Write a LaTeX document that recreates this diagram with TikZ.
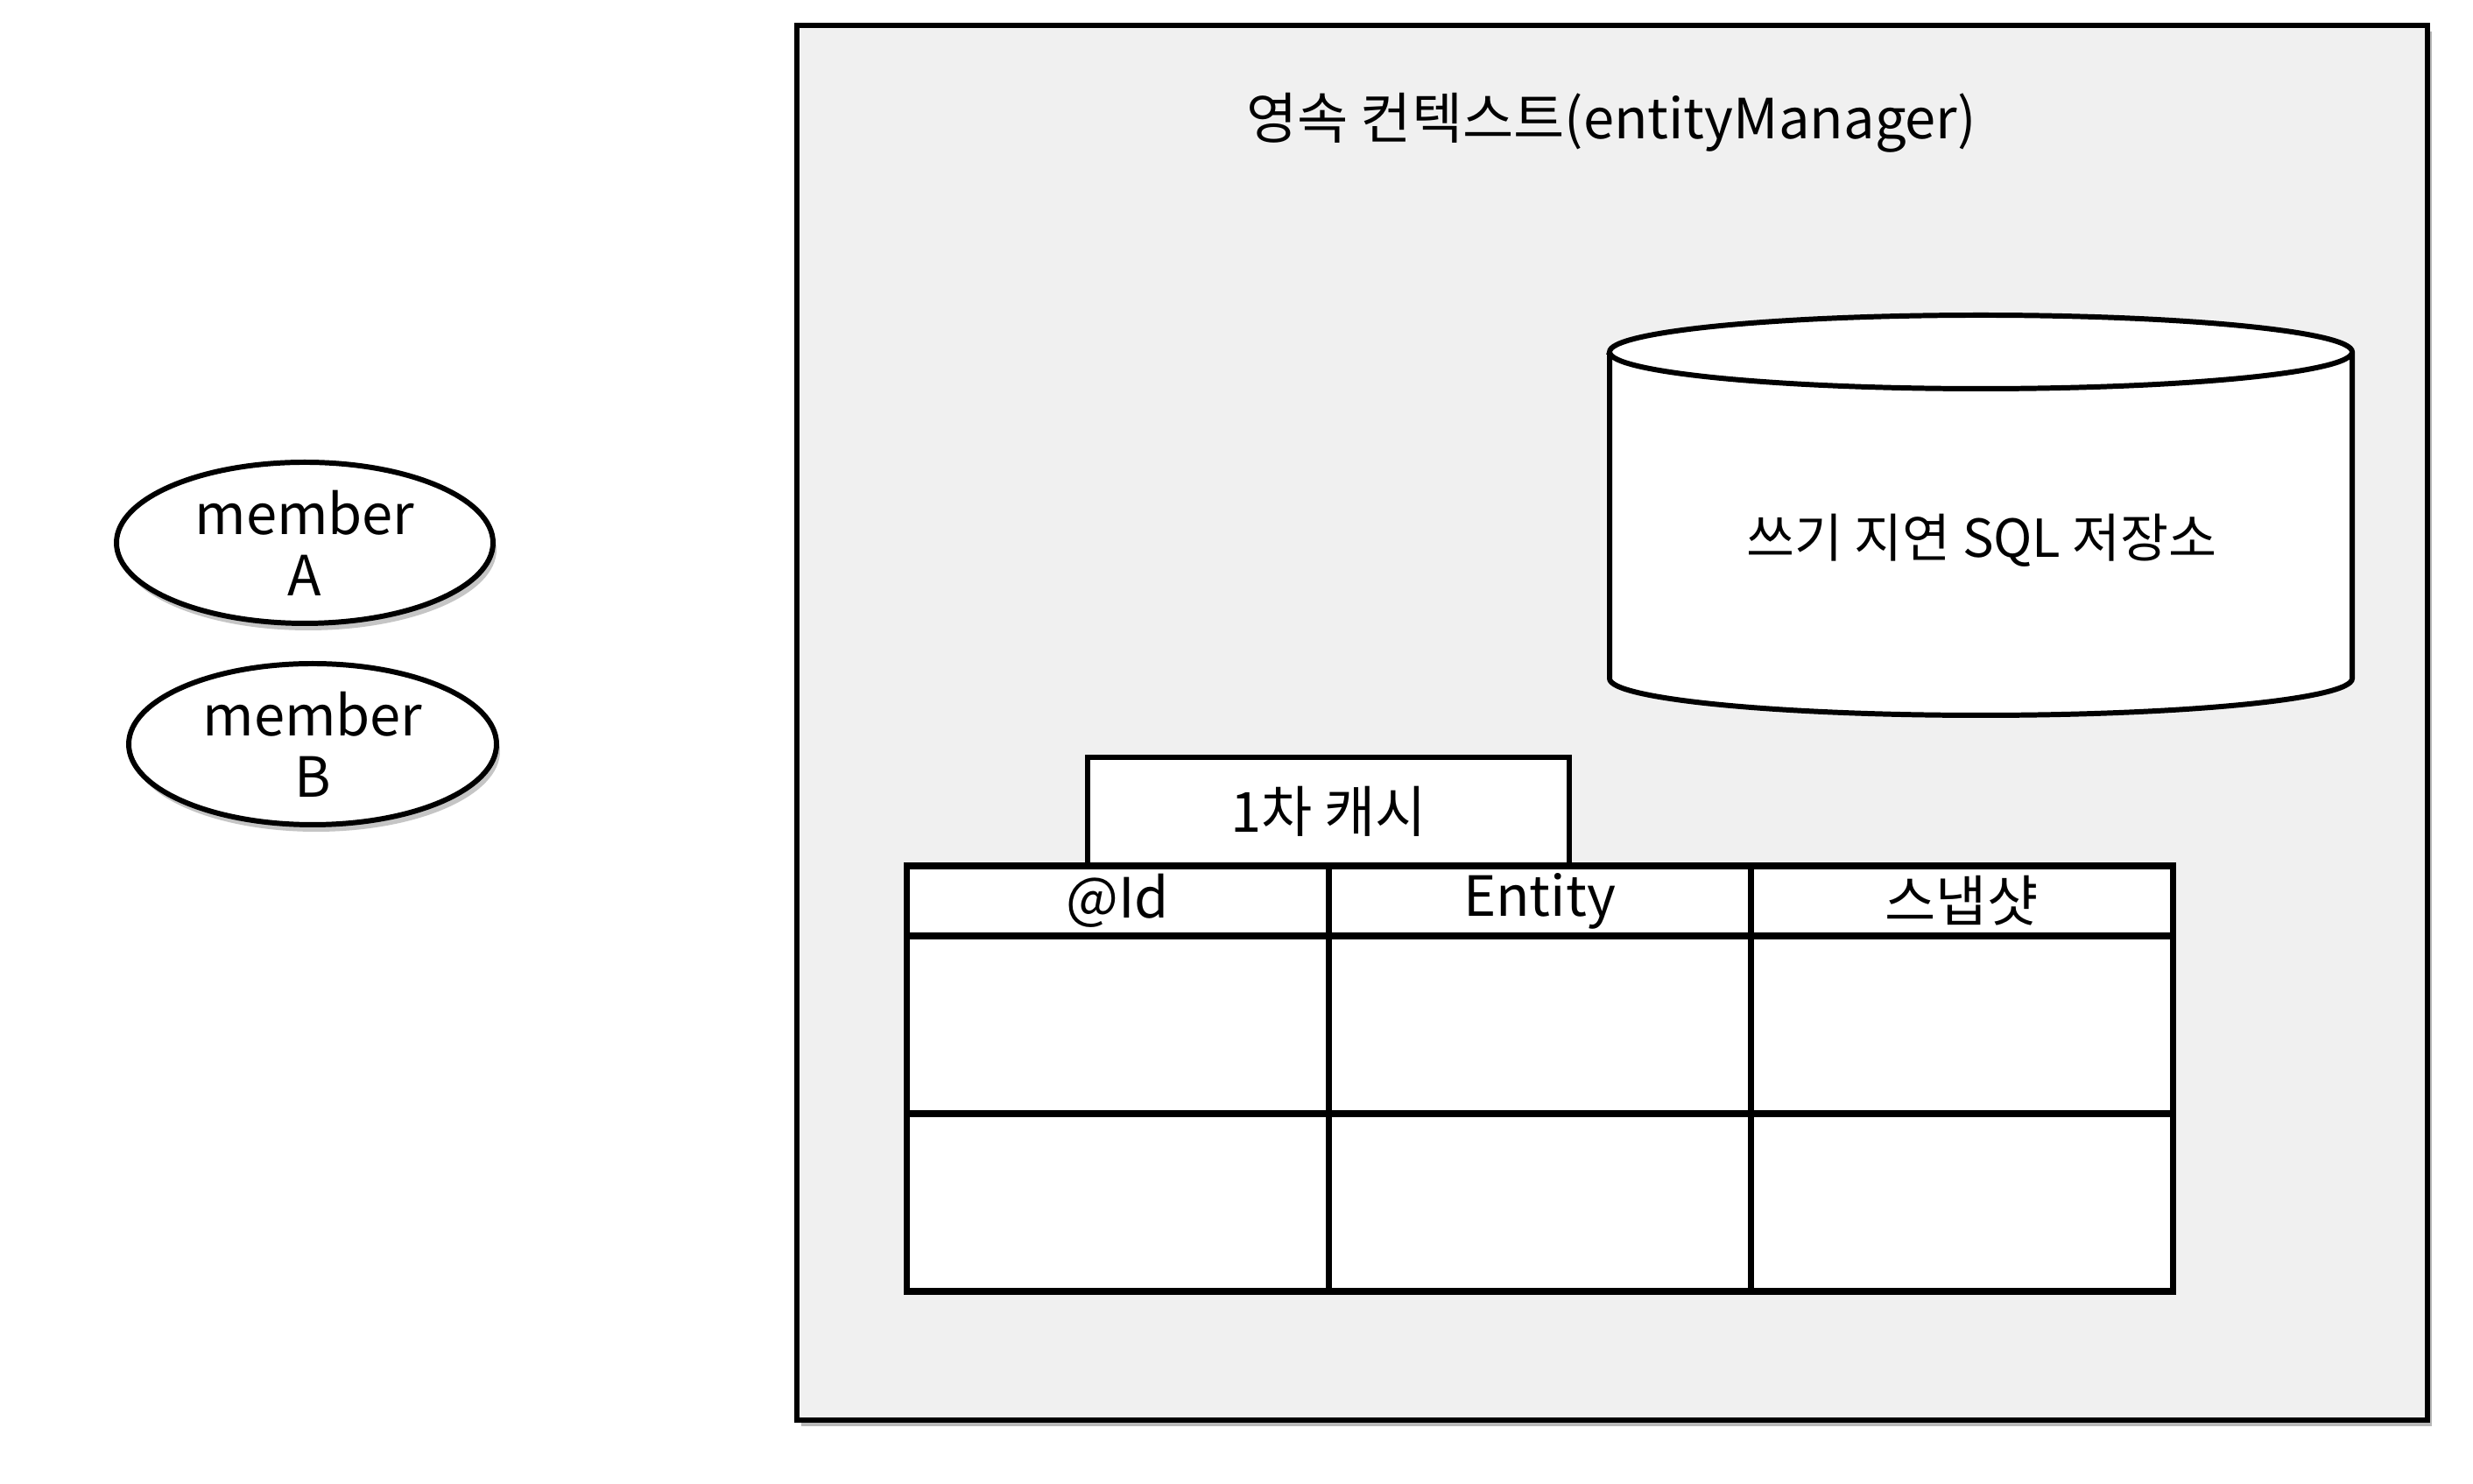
\documentclass[tikz,border=0pt]{standalone}
\usepackage{fontspec}
\setmainfont{Noto Sans CJK KR}
\usetikzlibrary{shapes.geometric,shadows}
\tikzstyle{ctxbox} = [draw=black, fill=black!6, line width=1.7pt, rectangle, minimum width=18.62cm, minimum height=15.93cm, inner sep=0pt, drop shadow={shadow xshift=0.05cm, shadow yshift=-0.07cm, fill=black!55}]
\tikzstyle{ctxtitle} = [font=\fontsize{18}{22}\selectfont]
\tikzstyle{memberbox} = [draw=black, fill=white, line width=1.7pt, ellipse, minimum width=4.3cm, minimum height=1.84cm, align=center, inner sep=0pt, font=\fontsize{18}{20}\selectfont, drop shadow={shadow xshift=0.04cm, shadow yshift=-0.08cm, fill=black!45}]
\tikzstyle{cachebox} = [draw=black, fill=white, line width=1.7pt, rectangle, minimum width=5.5cm, minimum height=1.3cm, inner sep=0pt, font=\fontsize{18}{22}\selectfont]
\tikzstyle{headbox} = [draw=black, fill=white, line width=2pt, rectangle, minimum width=4.82cm, minimum height=0.8cm, inner sep=0pt, outer sep=0pt, font=\fontsize{18}{22}\selectfont]
\tikzstyle{cellbox} = [headbox, minimum height=2.03cm]
\begin{document}
\begin{tikzpicture}
\useasboundingbox[fill=white] (0,0) rectangle (28.24,16.95);
% persistence context
\node [ctxbox] (ctx) at (18.41,8.695) {};
\node [ctxtitle] (ctxname) at (18.40,15.55) {영속 컨텍스트(entityManager)};
% entities outside
\node [memberbox] (memberA) at (3.48,10.75) {member\\A};
\node [memberbox, minimum width=4.2cm] (memberB) at (3.57,8.45) {member\\B};
% write-behind store
\draw [line width=1.7pt, fill=white] (18.38,12.93) -- (18.38,9.20)
    arc[start angle=180, end angle=360, x radius=4.24cm, y radius=0.42cm]
    -- (26.86,12.93)
    arc[start angle=0, end angle=180, x radius=4.24cm, y radius=0.42cm] -- cycle;
\draw [line width=1.7pt] (18.38,12.93) arc[start angle=180, end angle=360, x radius=4.24cm, y radius=0.42cm];
\node [font=\fontsize{17}{20}\selectfont] (sqlstore) at (22.63,10.78) {쓰기 지연 SQL 저장소};
% first level cache
\node [cachebox] (cache) at (15.17,7.65) {};
\node [font=\fontsize{18}{22}\selectfont] (cachename) at (15.17,7.68) {1차 캐시};
\foreach \col/\head [count=\i] in {id/@Id, entity/Entity, snap/스냅샷} {
    \node [headbox] (h\col) at ({10.35+4.82*(\i-0.5)},6.66) {\head};
    \node [cellbox] (a\col) at ({10.35+4.82*(\i-0.5)},5.245) {};
    \node [cellbox] (b\col) at ({10.35+4.82*(\i-0.5)},3.215) {};
}
\end{tikzpicture}
\end{document}
